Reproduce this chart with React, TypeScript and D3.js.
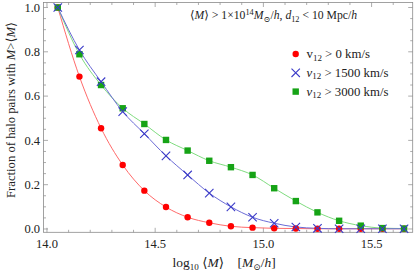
import { useRef, useEffect } from 'react'
import * as d3 from 'd3'

const logMass = [14.05, 14.15, 14.25, 14.35, 14.45, 14.55, 14.65, 14.75, 14.85, 14.95, 15.05, 15.15, 15.25, 15.35, 15.45, 15.55, 15.65]
const fracV0 = [1.0, 0.688, 0.455, 0.289, 0.173, 0.099, 0.053, 0.028, 0.012, 0.006, 0.003, 0.002, 0.001, 0.001, 0.001, 0.001, 0.001]
const fracV1500 = [1.0, 0.808, 0.665, 0.53, 0.43, 0.33, 0.244, 0.162, 0.1, 0.053, 0.026, 0.009, 0.003, 0.001, 0.001, 0.001, 0.001]
const fracV3000 = [1.0, 0.789, 0.65, 0.545, 0.474, 0.402, 0.354, 0.308, 0.279, 0.244, 0.184, 0.126, 0.075, 0.037, 0.015, 0.004, 0.002]
const xTicks = [14.0, 14.5, 15.0, 15.5]
const yTicks = [0.0, 0.2, 0.4, 0.6, 0.8, 1.0]
const seriesLabels = ['0', '1500', '3000']

const SERIF = 'Liberation Serif, DejaVu Serif, serif'

export default function App() {
  const ref = useRef<SVGSVGElement>(null)

  useEffect(() => {
    if (!ref.current) return
    const svg = d3.select(ref.current)
    svg.selectAll('*').remove()

    const left = 43.5
    const right = 412.7
    const top = 2.5
    const bottom = 232.3

    const x = d3.scaleLinear().domain([13.984, 15.69]).range([left, right])
    const y = d3.scaleLinear().domain([-0.015, 1.0226]).range([bottom, top])

    const frameColor = '#8a8a8a'

    // frame
    svg
      .append('rect')
      .attr('x', left)
      .attr('y', top)
      .attr('width', right - left)
      .attr('height', bottom - top)
      .attr('fill', 'none')
      .attr('stroke', frameColor)
      .attr('stroke-width', 0.8)

    // ticks (inward on all four sides)
    const xMinor = d3.range(14.0, 15.7, 0.1).map((d) => Math.round(d * 10) / 10)
    const yMinor = d3.range(0, 1.0001, 0.05).map((d) => Math.round(d * 100) / 100)
    const ticks = svg.append('g').attr('stroke', frameColor).attr('stroke-width', 0.7)
    xMinor.forEach((v) => {
      const major = xTicks.some((t) => Math.abs(t - v) < 1e-6)
      const len = major ? 4.5 : 2.5
      const px = x(v)
      ticks.append('line').attr('x1', px).attr('x2', px).attr('y1', bottom).attr('y2', bottom - len)
      ticks.append('line').attr('x1', px).attr('x2', px).attr('y1', top).attr('y2', top + len)
    })
    yMinor.forEach((v) => {
      const major = yTicks.some((t) => Math.abs(t - v) < 1e-6)
      const len = major ? 4.5 : 2.5
      const py = y(v)
      ticks.append('line').attr('x1', left).attr('x2', left + len).attr('y1', py).attr('y2', py)
      ticks.append('line').attr('x1', right).attr('x2', right - len).attr('y1', py).attr('y2', py)
    })

    // tick labels
    svg
      .append('g')
      .selectAll('text')
      .data(xTicks)
      .join('text')
      .attr('x', (d) => x(d))
      .attr('y', 248)
      .attr('text-anchor', 'middle')
      .style('font-family', SERIF)
      .style('font-size', '12.5px')
      .attr('fill', '#222')
      .text((d) => d.toFixed(1))

    svg
      .append('g')
      .selectAll('text')
      .data(yTicks)
      .join('text')
      .attr('x', 40)
      .attr('y', (d) => y(d) + 4.3)
      .attr('text-anchor', 'end')
      .style('font-family', SERIF)
      .style('font-size', '12.5px')
      .attr('fill', '#222')
      .text((d) => d.toFixed(1))

    // series
    const series = [
      { values: fracV0, line: '#ff6a6a', mark: '#ff0000', shape: 'circle' },
      { values: fracV3000, line: '#7fdc7f', mark: '#16a316', shape: 'square' },
      { values: fracV1500, line: '#6b6bd6', mark: '#3b3bc8', shape: 'cross' },
    ]

    const line = d3
      .line<number>()
      .x((_, i) => x(logMass[i]))
      .y((d) => y(d))
      .curve(d3.curveMonotoneX)

    const plot = svg.append('g')
    series.forEach((s) => {
      plot
        .append('path')
        .datum(s.values)
        .attr('fill', 'none')
        .attr('stroke', s.line)
        .attr('stroke-width', 1)
        .attr('d', line)
    })

    const drawMarker = (g: d3.Selection<SVGGElement, unknown, null, undefined>, shape: string, color: string, px: number, py: number) => {
      if (shape === 'circle') {
        g.append('circle').attr('cx', px).attr('cy', py).attr('r', 3.2).attr('fill', color)
      } else if (shape === 'square') {
        g.append('rect').attr('x', px - 3.2).attr('y', py - 3.2).attr('width', 6.4).attr('height', 6.4).attr('fill', color)
      } else {
        const r = 4.2
        g.append('path')
          .attr('d', `M${px - r},${py - r}L${px + r},${py + r}M${px - r},${py + r}L${px + r},${py - r}`)
          .attr('stroke', color)
          .attr('stroke-width', 1.1)
          .attr('fill', 'none')
      }
    }

    series.forEach((s) => {
      const g = plot.append('g')
      s.values.forEach((v, i) => drawMarker(g, s.shape, s.mark, x(logMass[i]), y(v)))
    })

    // legend
    const legend = svg.append('g')
    const legendMarks = [
      { shape: 'circle', color: '#ff0000', italic: false },
      { shape: 'cross', color: '#3b3bc8', italic: true },
      { shape: 'square', color: '#16a316', italic: true },
    ]
    legendMarks.forEach((m, i) => {
      const ly = 54 + i * 18.8
      const lg = legend.append('g')
      drawMarker(lg, m.shape, m.color, 295.7, ly)
      const t = legend
        .append('text')
        .attr('x', 306.5)
        .attr('y', ly + 4)
        .style('font-family', SERIF)
        .style('font-size', '12.8px')
        .attr('fill', '#222')
      t.append('tspan').style('font-style', m.italic ? 'italic' : 'normal').text('v')
      t.append('tspan').style('font-size', '9px').attr('dy', 2.5).text('12')
      t.append('tspan').attr('dy', -2.5).text(`\u00a0> ${seriesLabels[i]} km/s`)
    })

    // annotation
    const ann = svg
      .append('text')
      .attr('x', 190)
      .attr('y', 19)
      .style('font-family', SERIF)
      .style('font-size', '11.7px')
      .attr('fill', '#222')
    const sub = '8.3px'
    ann.append('tspan').text('⟨')
    ann.append('tspan').style('font-style', 'italic').text('M')
    ann.append('tspan').text('⟩ > 1×10')
    ann.append('tspan').style('font-size', sub).attr('dy', -4.5).text('14')
    ann.append('tspan').attr('dy', 4.5).style('font-style', 'italic').text('M')
    ann.append('tspan').style('font-size', sub).attr('dy', 2.5).text('⊙')
    ann.append('tspan').attr('dy', -2.5).text('/')
    ann.append('tspan').style('font-style', 'italic').text('h')
    ann.append('tspan').text(', ')
    ann.append('tspan').style('font-style', 'italic').text('d')
    ann.append('tspan').style('font-size', sub).attr('dy', 2.5).text('12')
    ann.append('tspan').attr('dy', -2.5).text(' < 10 Mpc/')
    ann.append('tspan').style('font-style', 'italic').text('h')

    // x axis label
    const xl = svg
      .append('text')
      .attr('x', 172.5)
      .attr('y', 266.5)
      .style('font-family', SERIF)
      .style('font-size', '13.5px')
      .attr('fill', '#222')
    xl.append('tspan').text('log')
    xl.append('tspan').style('font-size', '9px').attr('dy', 3).text('10')
    xl.append('tspan').attr('dy', -3).text('\u00a0⟨')
    xl.append('tspan').style('font-style', 'italic').text('M')
    xl.append('tspan').text('⟩\u00a0\u00a0\u00a0\u00a0[')
    xl.append('tspan').style('font-style', 'italic').text('M')
    xl.append('tspan').style('font-size', '9px').attr('dy', 3).text('⊙')
    xl.append('tspan').attr('dy', -3).text('/')
    xl.append('tspan').style('font-style', 'italic').text('h')
    xl.append('tspan').text(']')

    // y axis label
    const yl = svg
      .append('text')
      .attr('transform', 'translate(15,110) rotate(-90)')
      .attr('text-anchor', 'middle')
      .style('font-family', SERIF)
      .style('font-size', '12.7px')
      .attr('fill', '#222')
    yl.append('tspan').text('Fraction of halo pairs with ')
    yl.append('tspan').style('font-style', 'italic').text('M')
    yl.append('tspan').text('>⟨')
    yl.append('tspan').style('font-style', 'italic').text('M')
    yl.append('tspan').text('⟩')
  }, [])

  return (
    <svg
      ref={ref}
      width={415}
      height={278}
      style={{ position: 'absolute', left: 0, top: 0, background: '#fff' }}
    />
  )
}
